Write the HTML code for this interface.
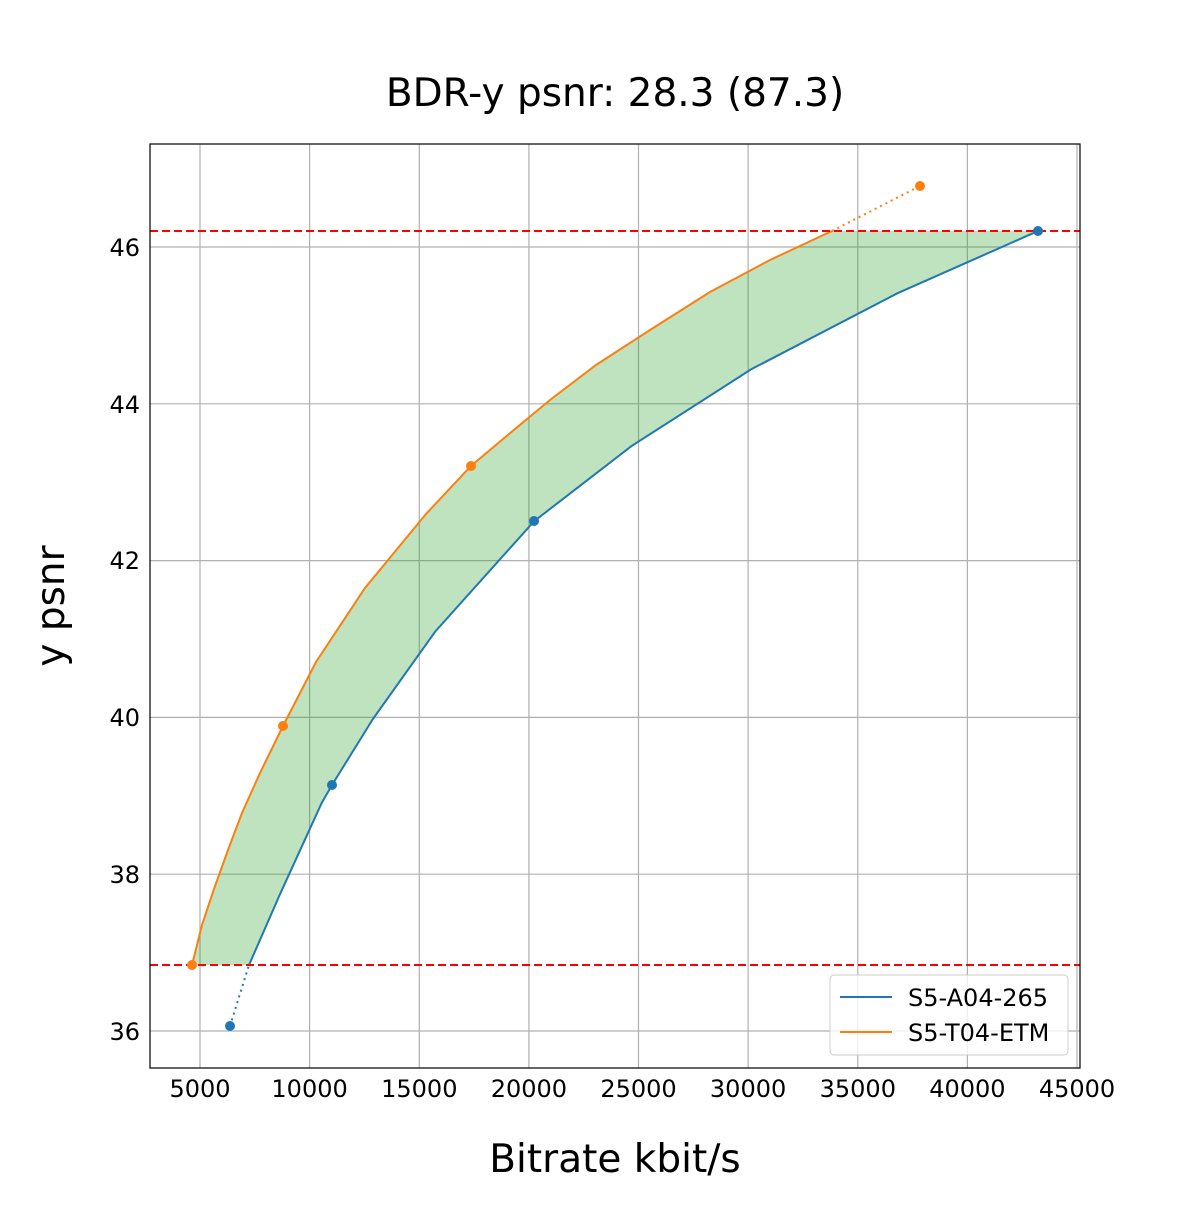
<!DOCTYPE html>
<html><head><meta charset="utf-8"><style>body{margin:0;background:#fff}</style></head><body>
<svg width="1200" height="1200" xmlns="http://www.w3.org/2000/svg" font-family="DejaVu Sans, Liberation Sans, sans-serif">
<rect width="1200" height="1200" fill="#fff"/>
<text x="615" y="106" font-size="39" text-anchor="middle">BDR-y psnr: 28.3 (87.3)</text>
<g stroke="#b0b0b0" stroke-width="1.2">
<line x1="200" y1="144" x2="200" y2="1068"/><line x1="309.6" y1="144" x2="309.6" y2="1068"/>
<line x1="419.3" y1="144" x2="419.3" y2="1068"/><line x1="528.9" y1="144" x2="528.9" y2="1068"/>
<line x1="638.5" y1="144" x2="638.5" y2="1068"/><line x1="748.1" y1="144" x2="748.1" y2="1068"/>
<line x1="857.8" y1="144" x2="857.8" y2="1068"/><line x1="967.4" y1="144" x2="967.4" y2="1068"/>
<line x1="1077" y1="144" x2="1077" y2="1068"/>
<line x1="150" y1="1031" x2="1080" y2="1031"/><line x1="150" y1="874.2" x2="1080" y2="874.2"/>
<line x1="150" y1="717.4" x2="1080" y2="717.4"/><line x1="150" y1="560.6" x2="1080" y2="560.6"/>
<line x1="150" y1="403.8" x2="1080" y2="403.8"/><line x1="150" y1="247" x2="1080" y2="247"/>
</g>
<polygon fill="#2ca02c" fill-opacity="0.3" points="192,965 202,925 214,889 228,850 242,813 260,773 283,726 316,662 365,588 426,514 471,466 503,439 550,400 596,365 650,330 710,292 770,260 832,231 1038,231 897.6,293.2 751.2,369.3 631.5,446.1 534.4,521 435.5,631.2 372.9,719 332,785 321.7,803 279.8,894.6 249,965"/>
<polyline fill="none" stroke="#1f77b4" stroke-width="2" points="249,965 279.8,894.6 321.7,803 332,785 372.9,719 435.5,631.2 534.4,521 631.5,446.1 751.2,369.3 897.6,293.2 1038,231"/>
<line x1="230" y1="1026" x2="249" y2="965" stroke="#1f77b4" stroke-width="2" stroke-dasharray="2,4"/>
<polyline fill="none" stroke="#ff7f0e" stroke-width="2" points="192,965 202,925 214,889 228,850 242,813 260,773 283,726 316,662 365,588 426,514 471,466 503,439 550,400 596,365 650,330 710,292 770,260 832,231"/>
<line x1="832" y1="231" x2="920" y2="186" stroke="#ff7f0e" stroke-width="2" stroke-dasharray="2,4"/>
<g stroke="#f00" stroke-width="2" stroke-dasharray="8,4"><line x1="150" y1="231" x2="1080" y2="231"/><line x1="150" y1="965" x2="1080" y2="965"/></g>
<g fill="#1f77b4"><circle cx="230" cy="1026" r="5"/><circle cx="332" cy="785" r="5"/><circle cx="534" cy="521" r="5"/><circle cx="1038" cy="231" r="5"/></g>
<g fill="#ff7f0e"><circle cx="192" cy="965" r="5"/><circle cx="283" cy="726" r="5"/><circle cx="471" cy="466" r="5"/><circle cx="920" cy="186" r="5"/></g>
<rect x="150" y="144" width="930" height="924" fill="none" stroke="#000" stroke-width="1.2"/>
<g font-size="24" text-anchor="middle">
<text x="200" y="1097">5000</text><text x="309.6" y="1097">10000</text><text x="419.3" y="1097">15000</text>
<text x="528.9" y="1097">20000</text><text x="638.5" y="1097">25000</text><text x="748.1" y="1097">30000</text>
<text x="857.8" y="1097">35000</text><text x="967.4" y="1097">40000</text><text x="1077" y="1097">45000</text>
</g>
<g font-size="24" text-anchor="end">
<text x="140" y="1040">36</text><text x="140" y="883">38</text><text x="140" y="726">40</text>
<text x="140" y="569">42</text><text x="140" y="413">44</text><text x="140" y="256">46</text>
</g>
<text x="615" y="1172" font-size="39" text-anchor="middle">Bitrate kbit/s</text>
<text transform="translate(64,606) rotate(-90)" font-size="39" text-anchor="middle">y psnr</text>
<rect x="830" y="975" width="238" height="80" rx="4" fill="#fff" fill-opacity="0.8" stroke="#ccc"/>
<line x1="840" y1="997" x2="892" y2="997" stroke="#1f77b4" stroke-width="2"/>
<line x1="840" y1="1032" x2="892" y2="1032" stroke="#ff7f0e" stroke-width="2"/>
<text x="908" y="1006" font-size="24">S5-A04-265</text>
<text x="908" y="1041" font-size="24">S5-T04-ETM</text>
</svg>
</body></html>
